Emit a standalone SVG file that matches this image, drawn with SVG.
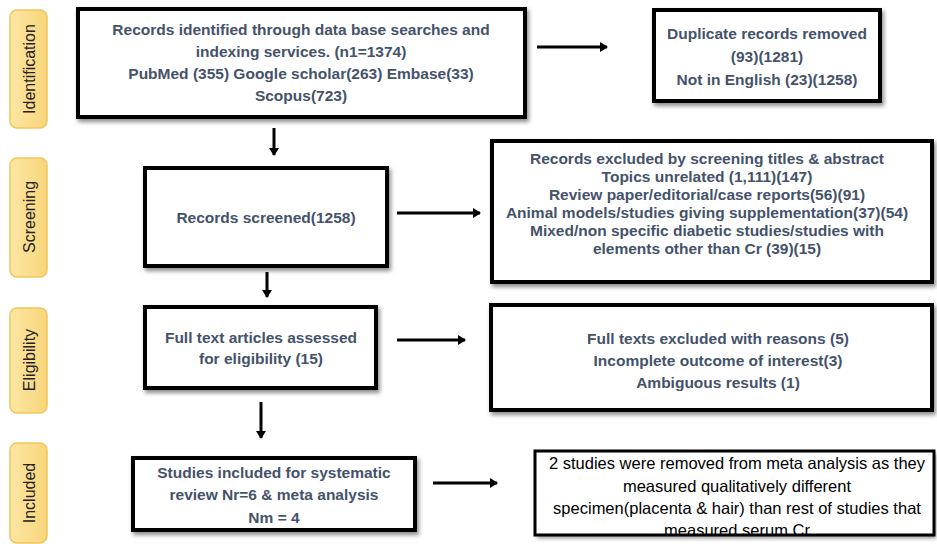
<svg xmlns="http://www.w3.org/2000/svg" width="937" height="544" viewBox="0 0 937 544">
<defs>
<linearGradient id="tab" x1="0" y1="0" x2="1" y2="0">
<stop offset="0" stop-color="#FDE7A4"/>
<stop offset="1" stop-color="#F8D57A"/>
</linearGradient>
<filter id="sh" x="-5%" y="-5%" width="115%" height="125%">
<feDropShadow dx="2" dy="3" stdDeviation="2" flood-color="#000" flood-opacity="0.45"/>
</filter>
<marker id="ah" markerWidth="10" markerHeight="10" refX="7" refY="5" orient="auto" markerUnits="userSpaceOnUse">
<path d="M0,0 L8,5 L0,10 Z" fill="#000"/>
</marker>
</defs>
<style>
.tab rect{fill:url(#tab);stroke:#F1C55A;stroke-width:1.5}
.tab text{font-family:"Liberation Sans",Arial,sans-serif;font-size:16px;fill:#222;text-anchor:middle}
.box rect{fill:#fff;stroke:#000;stroke-width:4;filter:url(#sh)}
.box text{font-family:"Liberation Sans",Arial,sans-serif;font-weight:bold;font-size:15.5px;fill:#44526A;text-anchor:middle}
.plain text{font-family:"Liberation Sans",Arial,sans-serif;font-size:16.5px;fill:#000;text-anchor:middle}
.conn line{stroke:#000;stroke-width:3;marker-end:url(#ah)}
</style>
<rect width="937" height="544" fill="#fff"/>

<g id="tab-identification" class="tab"><rect x="10" y="10" width="37" height="118" rx="7"/><text transform="translate(35,69) rotate(-90)">Identification</text></g>
<g id="tab-screening" class="tab"><rect x="10" y="158" width="37" height="119" rx="7"/><text transform="translate(35,217) rotate(-90)">Screening</text></g>
<g id="tab-eligibility" class="tab"><rect x="10" y="308" width="37" height="105" rx="7"/><text transform="translate(35,360) rotate(-90)">Eligibility</text></g>
<g id="tab-included" class="tab"><rect x="10" y="443" width="37" height="100" rx="7"/><text transform="translate(35,493) rotate(-90)">Included</text></g>

<g id="identified" class="box"><rect x="78" y="9" width="447" height="108"/>
<text x="301" y="35">Records identified through data base searches and</text>
<text x="301" y="57">indexing services. (n1=1374)</text>
<text x="301" y="79">PubMed (355) Google scholar(263) Embase(33)</text>
<text x="301" y="101">Scopus(723)</text></g>

<g id="duplicates" class="box"><rect x="654" y="10" width="226" height="91"/>
<text x="767" y="39">Duplicate records removed</text>
<text x="767" y="62">(93)(1281)</text>
<text x="767" y="85">Not in English (23)(1258)</text></g>

<g id="screened" class="box"><rect x="145" y="168" width="242" height="98"/>
<text x="266" y="223">Records screened(1258)</text></g>

<g id="excluded-screening" class="box"><rect x="492" y="141" width="440" height="141"/>
<text x="707" y="164">Records excluded by screening titles &amp; abstract</text>
<text x="707" y="182">Topics unrelated (1,111)(147)</text>
<text x="707" y="200">Review paper/editorial/case reports(56)(91)</text>
<text x="707" y="218">Animal models/studies giving supplementation(37)(54)</text>
<text x="707" y="236">Mixed/non specific diabetic studies/studies with</text>
<text x="707" y="254">elements other than Cr (39)(15)</text></g>

<g id="fulltext" class="box"><rect x="145" y="307" width="231" height="81"/>
<text x="261" y="343">Full text articles assessed</text>
<text x="261" y="364">for eligibility  (15)</text></g>

<g id="excluded-fulltext" class="box"><rect x="491" y="305" width="441" height="105"/>
<text x="718" y="344">Full texts excluded with reasons (5)</text>
<text x="718" y="366">Incomplete outcome of interest(3)</text>
<text x="718" y="388">Ambiguous results (1)</text></g>

<g id="included" class="box"><rect x="133" y="458" width="282" height="72"/>
<text x="274" y="478">Studies included for systematic</text>
<text x="274" y="500">review Nr=6 &amp; meta analysis</text>
<text x="274" y="523">Nm = 4</text></g>

<g id="removed" class="plain">
<rect x="535" y="451" width="399" height="84" fill="#fff" stroke="none" filter="url(#sh)"/>
<text x="737" y="469">2 studies were removed from meta analysis as they</text>
<text x="737" y="492">measured qualitatively different</text>
<text x="737" y="514">specimen(placenta &amp; hair) than rest of studies that</text>
<text x="737" y="536">measured serum Cr</text>
<rect x="535" y="451" width="399" height="84" fill="none" stroke="#000" stroke-width="3"/>
</g>

<g id="connectors" class="conn">
<line x1="274" y1="128" x2="274" y2="155"/>
<line x1="537" y1="47" x2="607" y2="47"/>
<line x1="397" y1="213" x2="480" y2="213"/>
<line x1="267" y1="272" x2="267" y2="297"/>
<line x1="397" y1="340" x2="465" y2="340"/>
<line x1="261" y1="402" x2="261" y2="438"/>
<line x1="433" y1="483" x2="497" y2="483"/>
</g>
</svg>
